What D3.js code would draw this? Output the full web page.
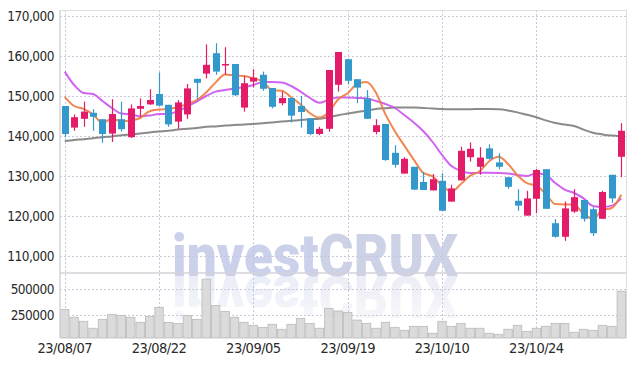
<!DOCTYPE html>
<html>
<head>
<meta charset="utf-8">
<script src="https://cdn.jsdelivr.net/npm/d3@7/dist/d3.min.js"></script>
<style>
body { margin: 0; background: #fff; }
.axis text { font-family: 'DejaVu Sans Condensed', 'DejaVu Sans', sans-serif; fill: #2a2a2a; letter-spacing: -0.5px; }
</style>
</head>
<body>
<div id="chart"></div>
<script>
var dates = ['23/08/07','23/08/08','23/08/09','23/08/10','23/08/11','23/08/14','23/08/16','23/08/17','23/08/18','23/08/21',
    '23/08/22','23/08/23','23/08/24','23/08/25','23/08/28','23/08/29','23/08/30','23/08/31','23/09/01','23/09/04',
    '23/09/05','23/09/06','23/09/07','23/09/08','23/09/11','23/09/12','23/09/13','23/09/14','23/09/15','23/09/18',
    '23/09/19','23/09/20','23/09/21','23/09/22','23/09/25','23/09/26','23/09/27','23/10/04','23/10/05','23/10/06',
    '23/10/10','23/10/11','23/10/12','23/10/13','23/10/16','23/10/17','23/10/18','23/10/19','23/10/20','23/10/23',
    '23/10/24','23/10/25','23/10/26','23/10/27','23/10/30','23/10/31','23/11/01','23/11/02','23/11/03','23/11/06'];

var open = [147500,142100,144300,145800,144200,140600,144200,139700,146800,147900,
    150500,147800,143600,145400,154300,155600,160700,157900,158000,147100,
    153600,155300,152000,148200,149500,147500,144400,140500,141800,152800,
    159200,154200,149400,141000,143000,135800,130600,132300,128500,126400,
    128800,123600,128900,134700,132300,136900,133400,129700,123800,120100,
    124300,131700,118200,114800,121100,124000,121700,119300,130300,134800];
var high = [147500,145400,148600,146700,144200,149200,148600,147900,149400,151700,
    155900,147800,149000,153000,154300,162900,163200,162200,158000,155000,
    156700,156100,152000,151100,149500,150000,144400,142300,156500,161000,
    159200,154200,151500,144200,143000,137700,134700,132300,131000,130500,
    130700,127800,137300,138400,137200,137900,135700,129700,126700,126300,
    131800,131700,119200,123600,126700,124000,122200,126300,130300,143200];
var low = [139700,141300,142300,141300,138300,138500,141100,139500,144800,147800,
    147500,142300,141800,144300,149200,154400,155300,155300,150000,146100,
    152200,151300,146900,147700,143400,142100,140200,140200,141100,151100,
    152900,148200,144300,140400,133800,132100,130600,126500,126500,126400,
    121300,123600,128900,133600,130300,134100,131700,126800,121300,120100,
    120700,121800,114600,113800,120800,118600,115000,119300,123300,129700];
var close = [140500,144700,146100,144800,140500,145500,141700,146900,147500,149000,
    147600,142900,148400,151900,153300,157800,156100,158000,150200,153200,
    154600,151800,147300,149500,145100,146000,140500,141800,156500,161000,
    153800,152100,144300,142700,134000,132800,134300,126600,126500,129200,
    121300,126900,136300,136800,134600,134300,132300,127300,122600,124400,
    131500,121800,114800,121900,124700,119300,115700,126000,124400,141300];
var volume = [305000,228000,189000,121000,208000,257000,247000,228000,179000,237000,
    325000,179000,169000,247000,208000,600000,344000,286000,228000,179000,
    150000,130000,160000,111000,160000,218000,169000,121000,315000,289000,
    276000,201000,169000,121000,179000,130000,101000,140000,140000,72000,
    189000,140000,169000,121000,121000,72000,62000,111000,150000,91000,
    121000,140000,169000,169000,82000,111000,101000,150000,140000,483000];

// moving averages as drawn (short / middle / long)
var maShort = [149800,147500,146800,145400,143300,144300,143700,143900,144500,146200,
    146600,146800,147200,148000,149000,150900,153400,155400,155100,155000,
    154400,153600,151400,151300,149700,147900,145700,144600,146000,149200,
    150700,153000,153500,150800,145400,141200,137600,134100,130800,129900,
    127600,126100,128000,130100,131200,133700,134800,133000,130200,128200,
    127600,125500,123000,122900,122900,120500,119300,121500,122000,125300];
var maMid = [156100,152750,150750,150500,148750,147000,145600,145400,144900,145100,
    145500,145500,146250,147400,148600,150000,151100,151500,151900,152200,
    152750,153500,153500,153400,152500,151100,149500,148300,149100,149600,
    149600,149500,149400,148750,148000,147000,145250,143400,141250,138500,
    135250,132500,131250,130750,130800,130800,130750,130600,130250,130000,
    130700,130250,128250,126600,125750,124400,122500,122250,122600,124400];
var maLong = [138750,139000,139200,139450,139700,139900,140200,140400,140600,140900,
    141100,141300,141600,141800,142000,142300,142400,142600,142750,142900,
    143000,143200,143400,143600,143800,144000,144200,144300,144750,145200,
    145600,146000,146400,146750,146950,147100,147150,147100,147000,146900,
    146750,146700,146700,146700,146750,146750,146700,146400,145900,145300,
    144700,143900,143250,142850,142500,141600,140800,140400,140100,139900];

var priceTicks = [110000,120000,130000,140000,150000,160000,170000];
var volumeTicks = [250000,500000];
var dateTicks = ['23/08/07','23/08/22','23/09/05','23/09/19','23/10/10','23/10/24'];

var W = 634, H = 367;
var margin = {left: 60, right: 8, top: 10, split: 273, bottom: 338};
var style = {
    up: '#e31c69',
    down: '#3399cc',
    maShort: '#ee7b3e',
    maMid: '#cb52ee',
    maLong: '#7d7d7d',
    grid: '#c9c9da',
    frame: '#d2d2d8',
    volFill: '#d7d7d7',
    volStroke: '#bababa'
};

var data = dates.map(function(d, i) {
    return {date: d, o: open[i], h: high[i], l: low[i], c: close[i], v: volume[i],
        m1: maShort[i], m2: maMid[i], m3: maLong[i]};
});

var svg = d3.select('#chart').append('svg')
    .attr('width', W)
    .attr('height', H)
    .style('display', 'block');

var x = d3.scaleBand()
    .domain(dates)
    .range([margin.left, W - margin.right])
    .padding(0);

var y = d3.scaleLinear()
    .domain([105750, 171500])
    .range([margin.split, margin.top]);

var yVol = d3.scaleLinear()
    .domain([26000, 660000])
    .range([margin.bottom, margin.split]);

function cx(d) { return x(d.date) + x.bandwidth() / 2; }

// grid
var grid = svg.append('g').attr('class', 'grid');
grid.selectAll('.hgrid')
    .data(priceTicks)
    .enter().append('line')
    .attr('x1', margin.left).attr('x2', W - margin.right)
    .attr('y1', function(d) { return Math.round(y(d)) + 0.5; })
    .attr('y2', function(d) { return Math.round(y(d)) + 0.5; })
    .attr('stroke', style.grid)
    .attr('stroke-dasharray', '2,2');
grid.selectAll('.vgrid')
    .data(volumeTicks)
    .enter().append('line')
    .attr('x1', margin.left).attr('x2', W - margin.right)
    .attr('y1', function(d) { return Math.round(yVol(d)) + 0.5; })
    .attr('y2', function(d) { return Math.round(yVol(d)) + 0.5; })
    .attr('stroke', style.grid)
    .attr('stroke-dasharray', '2,2');
grid.selectAll('.xgrid')
    .data(dateTicks)
    .enter().append('line')
    .attr('x1', function(d) { return Math.round(x(d) + x.bandwidth() / 2) + 0.5; })
    .attr('x2', function(d) { return Math.round(x(d) + x.bandwidth() / 2) + 0.5; })
    .attr('y1', margin.top).attr('y2', margin.bottom)
    .attr('stroke', style.grid)
    .attr('stroke-dasharray', '2,2');

// watermark with reflection
var defs = svg.append('defs');
var grad = defs.append('linearGradient')
    .attr('id', 'fade').attr('x1', 0).attr('y1', 0).attr('x2', 0).attr('y2', 1);
grad.append('stop').attr('offset', '0').attr('stop-color', '#fff').attr('stop-opacity', 1);
grad.append('stop').attr('offset', '1').attr('stop-color', '#fff').attr('stop-opacity', 0.4);
defs.append('mask').attr('id', 'fadeMask')
    .append('rect')
    .attr('x', 0).attr('y', 276).attr('width', W).attr('height', 45)
    .attr('fill', 'url(#fade)');

function watermark(g) {
    var t = g.append('text')
        .attr('x', 172).attr('y', 276)
        .attr('textLength', 286)
        .attr('lengthAdjust', 'spacingAndGlyphs')
        .style('font-family', 'Roboto, sans-serif')
        .style('font-weight', '900')
        .style('font-size', '60px');
    t.append('tspan').attr('fill', '#bfc6e6').text('invest');
    t.append('tspan').attr('fill', '#c3c7e0').text('CRUX');
}
watermark(svg.append('g').attr('opacity', 0.8));
var refl = svg.append('g').attr('mask', 'url(#fadeMask)')
    .append('g')
    .attr('opacity', 0.32)
    .attr('transform', 'translate(0,' + (276 * 2) + ') scale(1,-1)');
watermark(refl);

// volume bars
svg.append('g').selectAll('rect')
    .data(data)
    .enter().append('rect')
    .attr('x', function(d) { return x(d.date) + 0.5; })
    .attr('width', x.bandwidth() - 1)
    .attr('y', function(d) { return yVol(d.v); })
    .attr('height', function(d) { return margin.bottom - yVol(d.v); })
    .attr('fill', style.volFill)
    .attr('fill-opacity', 0.9)
    .attr('stroke', style.volStroke)
    .attr('stroke-width', 0.8);

// frame
var frame = svg.append('g');
frame.append('line')
    .attr('x1', margin.left).attr('x2', margin.left)
    .attr('y1', margin.top).attr('y2', margin.bottom)
    .attr('stroke', style.frame).attr('stroke-width', 1.5);
frame.append('line')
    .attr('x1', W - margin.right + 0.5).attr('x2', W - margin.right + 0.5)
    .attr('y1', margin.top).attr('y2', margin.bottom)
    .attr('stroke', '#dcdce2');
frame.append('line')
    .attr('x1', margin.left).attr('x2', W - margin.right)
    .attr('y1', margin.top + 0.5).attr('y2', margin.top + 0.5)
    .attr('stroke', '#dcdce2');
frame.append('line')
    .attr('x1', margin.left).attr('x2', W - margin.right)
    .attr('y1', margin.split).attr('y2', margin.split)
    .attr('stroke', style.frame).attr('stroke-width', 1.5);

// moving average lines
function maLine(key) {
    return d3.line()
        .x(cx)
        .y(function(d) { return y(d[key]); })
        .curve(d3.curveMonotoneX);
}
var lines = svg.append('g').attr('fill', 'none').attr('stroke-linejoin', 'round');
lines.append('path').datum(data)
    .attr('d', maLine('m3'))
    .attr('stroke', style.maLong).attr('stroke-width', 2).attr('stroke-opacity', 0.9);
lines.append('path').datum(data)
    .attr('d', maLine('m2'))
    .attr('stroke', style.maMid).attr('stroke-width', 2).attr('stroke-opacity', 0.9);
lines.append('path').datum(data)
    .attr('d', maLine('m1'))
    .attr('stroke', style.maShort).attr('stroke-width', 2).attr('stroke-opacity', 0.9);

// candles
var bodyW = 7;
var candles = svg.append('g').selectAll('g')
    .data(data)
    .enter().append('g');
candles.append('line')
    .attr('x1', function(d) { return Math.round(cx(d)) + 0.5; })
    .attr('x2', function(d) { return Math.round(cx(d)) + 0.5; })
    .attr('y1', function(d) { return y(d.h); })
    .attr('y2', function(d) { return y(d.l); })
    .attr('stroke', function(d) { return d.c >= d.o ? style.up : style.down; })
    .attr('stroke-width', 1.2);
candles.append('rect')
    .attr('x', function(d) { return Math.round(cx(d)) + 0.5 - bodyW / 2; })
    .attr('width', bodyW)
    .attr('y', function(d) { return y(Math.max(d.o, d.c)); })
    .attr('height', function(d) { return Math.max(1.5, Math.abs(y(d.o) - y(d.c))); })
    .attr('fill', function(d) { return d.c >= d.o ? style.up : style.down; });

// axes
var yAxis = d3.axisLeft(y)
    .tickValues(priceTicks)
    .tickSize(0)
    .tickPadding(6)
    .tickFormat(d3.format(','));
svg.append('g')
    .attr('class', 'axis')
    .attr('transform', translation(margin.left, 0))
    .call(yAxis)
    .call(function(g) { g.select('.domain').remove(); })
    .selectAll('text').style('font-size', '13.5px');

var volAxis = d3.axisLeft(yVol)
    .tickValues(volumeTicks)
    .tickSize(0)
    .tickPadding(6)
    .tickFormat(d3.format('d'));
svg.append('g')
    .attr('class', 'axis')
    .attr('transform', translation(margin.left, 0))
    .call(volAxis)
    .call(function(g) { g.select('.domain').remove(); })
    .selectAll('text').style('font-size', '13.5px');

var xAxis = d3.axisBottom(x)
    .tickValues(dateTicks)
    .tickSize(0)
    .tickPadding(5);
svg.append('g')
    .attr('class', 'axis')
    .attr('transform', translation(0, margin.bottom))
    .call(xAxis)
    .call(function(g) { g.select('.domain').remove(); })
    .selectAll('text').style('font-size', '14.5px');

function translation(a, b) {
    return 'translate(' + a + ',' + b + ')';
}
</script>
</body>
</html>
